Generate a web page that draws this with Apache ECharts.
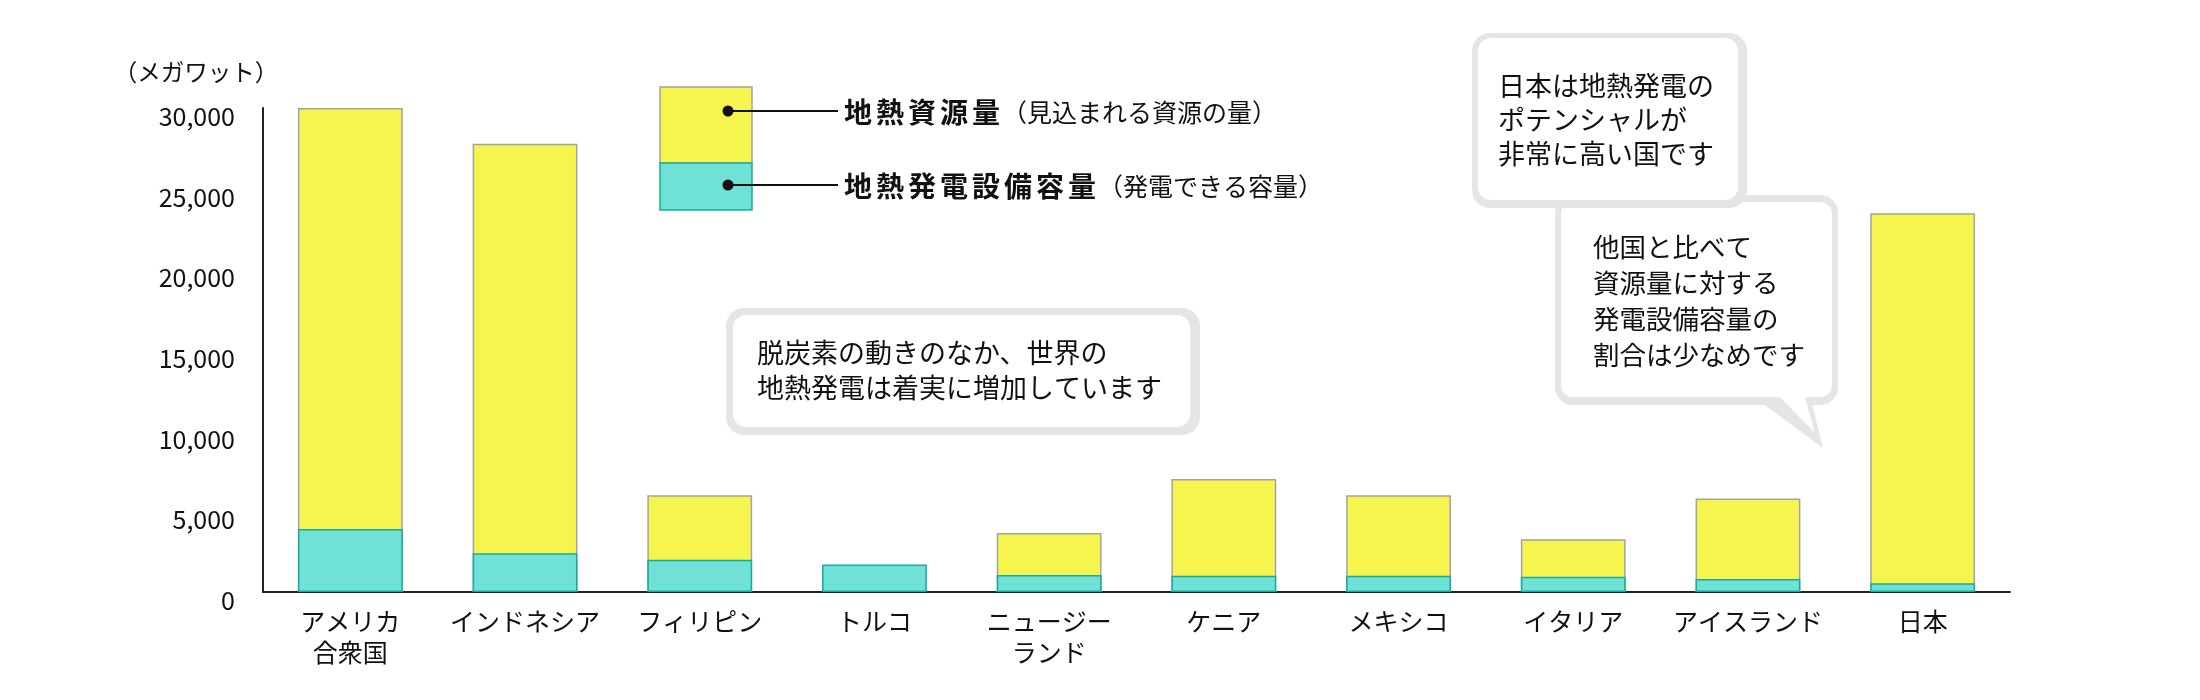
<!DOCTYPE html>
<html>
<head>
<meta charset="utf-8">
<script src="https://cdn.jsdelivr.net/npm/echarts@6/dist/echarts.min.js"></script>
<style>
html,body{margin:0;padding:0;background:#fff;}
#chart{width:2200px;height:700px;}
</style>
</head>
<body>
<div id="chart"></div>
<script>
// ---- data ----
const categories = ['アメリカ\n合衆国', 'インドネシア', 'フィリピン', 'トルコ', 'ニュージー\nランド', 'ケニア', 'メキシコ', 'イタリア', 'アイスランド', '日本'];
const resourceMW = [30000, 27790, 6000, null, 3650, 7000, 6000, 3270, 5800, 23470];   // 地熱資源量
const capacityMW = [3900, 2400, 2000, 1700, 1050, 1000, 1000, 950, 800, 550];        // 地熱発電設備容量
const yTicks = [0, 5000, 10000, 15000, 20000, 25000, 30000];
const unitLabel = '（メガワット）';
const legendNames = ['地熱資源量', '地熱発電設備容量'];
const legendNotes = ['（見込まれる資源の量）', '（発電できる容量）'];
const note1 = '脱炭素の動きのなか、世界の\n地熱発電は着実に増加しています';
const note2 = '日本は地熱発電の\nポテンシャルが\n非常に高い国です';
const note3 = '他国と比べて\n資源量に対する\n発電設備容量の\n割合は少なめです';

const FONT = '"Noto Sans CJK JP", "Noto Sans", sans-serif';
const YELLOW = '#f5f54e', YELLOW_B = '#a3a3a3';
const TEAL = '#70e1d6', TEAL_B = '#17ab9c';
const BOX_B = '#e5e5e5';

function spaced(str, key) {
  return str.split('').map(c => '{' + key + '|' + c + '}').join('');
}
function legendRich(i) {
  return spaced(legendNames[i], 'b') + '{n|' + legendNotes[i] + '}';
}
const richStyles = {
  b: {fontSize: 28, fontWeight: 'bold', fontFamily: FONT, fill: '#111', padding: [0, 2, 0, 2]},
  n: {fontSize: 25, fontWeight: 'normal', fontFamily: FONT, fill: '#111'}
};

function box(x, y, w, h, bw, r) {
  return [
    {type: 'rect', shape: {x: x, y: y, width: w, height: h, r: r}, style: {fill: BOX_B}},
    {type: 'rect', shape: {x: x + bw[0], y: y + bw[1], width: w - bw[0] - bw[2], height: h - bw[1] - bw[3], r: r - 5}, style: {fill: '#fff'}}
  ];
}

const chart = echarts.init(document.getElementById('chart'), null, {renderer: 'canvas'});
const graphics = [];
// y unit
graphics.push({type: 'text', x: 196, y: 72, style: {text: unitLabel, fontSize: 23.5, fontFamily: FONT, fill: '#111', textAlign: 'center', textVerticalAlign: 'middle'}});
// legend swatch
graphics.push({type: 'rect', shape: {x: 660, y: 87, width: 92, height: 76}, style: {fill: YELLOW, stroke: YELLOW_B, lineWidth: 1.5}});
graphics.push({type: 'rect', shape: {x: 660, y: 163, width: 92, height: 47}, style: {fill: TEAL, stroke: TEAL_B, lineWidth: 1.5}});
[111, 185].forEach((yy, i) => {
  graphics.push({type: 'line', shape: {x1: 728, y1: yy, x2: 838, y2: yy}, style: {stroke: '#111', lineWidth: 2}});
  graphics.push({type: 'circle', shape: {cx: 728, cy: yy, r: 5.5}, style: {fill: '#111'}});
  graphics.push({type: 'text', x: 842, y: yy + 1, style: {text: legendRich(i), rich: richStyles, textAlign: 'left', textVerticalAlign: 'middle'}});
});
// callout 1
box(726, 308, 474, 127, [7, 7, 10, 8], 18).forEach(g => graphics.push(g));
graphics.push({type: 'text', x: 757, y: 370, style: {text: note1, fontSize: 27, lineHeight: 35, fontFamily: FONT, fill: '#111', textAlign: 'left', textVerticalAlign: 'middle'}});
// callout 3 (behind callout 2)
graphics.push({type: 'rect', shape: {x: 1555, y: 195, width: 283, height: 210, r: 18}, style: {fill: BOX_B}});
graphics.push({type: 'polygon', shape: {points: [[1758, 400], [1811, 400], [1823, 448]]}, style: {fill: BOX_B}});
graphics.push({type: 'rect', shape: {x: 1561, y: 202, width: 271, height: 195, r: 12}, style: {fill: '#fff'}});
graphics.push({type: 'polygon', shape: {points: [[1773, 390], [1803, 390], [1815, 433]]}, style: {fill: '#fff'}});
graphics.push({type: 'text', x: 1593, y: 301, style: {text: note3, fontSize: 26.5, lineHeight: 36, fontFamily: FONT, fill: '#111', textAlign: 'left', textVerticalAlign: 'middle'}});
// callout 2
box(1472, 33, 275, 175, [6, 5, 9, 8], 18).forEach(g => graphics.push(g));
graphics.push({type: 'text', x: 1498, y: 120, style: {text: note2, fontSize: 27, lineHeight: 34, fontFamily: FONT, fill: '#111', textAlign: 'left', textVerticalAlign: 'middle'}});

const option = {
  animation: false,
  backgroundColor: '#fff',
  textStyle: {fontFamily: FONT},
  grid: {left: 263, right: 190, top: 108, bottom: 108, containLabel: false},
  xAxis: {
    type: 'category',
    data: categories,
    axisLine: {show: true, lineStyle: {color: '#222', width: 2}},
    axisTick: {show: false},
    axisLabel: {fontSize: 25, lineHeight: 31, margin: 14, color: '#111', fontFamily: FONT, interval: 0}
  },
  yAxis: {
    type: 'value',
    min: 0, max: 30000, interval: 5000,
    axisLine: {show: true, lineStyle: {color: '#222', width: 2}},
    axisTick: {show: false},
    splitLine: {show: false},
    axisLabel: {
      fontSize: 25, margin: 28, color: '#111', fontFamily: FONT,
      verticalAlign: 'top', lineHeight: 17,
      formatter: v => yTicks.includes(v) ? v.toLocaleString('en-US') : ''
    }
  },
  series: [
    {
      name: legendNames[0], type: 'bar', data: resourceMW, barWidth: '60%',
      itemStyle: {color: YELLOW, borderColor: YELLOW_B, borderWidth: 1.5}, z: 2
    },
    {
      name: legendNames[1], type: 'bar', data: capacityMW, barWidth: '60%', barGap: '-100%',
      itemStyle: {color: TEAL, borderColor: TEAL_B, borderWidth: 1.5}, z: 3
    }
  ],
  graphic: graphics
};
chart.setOption(option);
</script>
</body>
</html>
